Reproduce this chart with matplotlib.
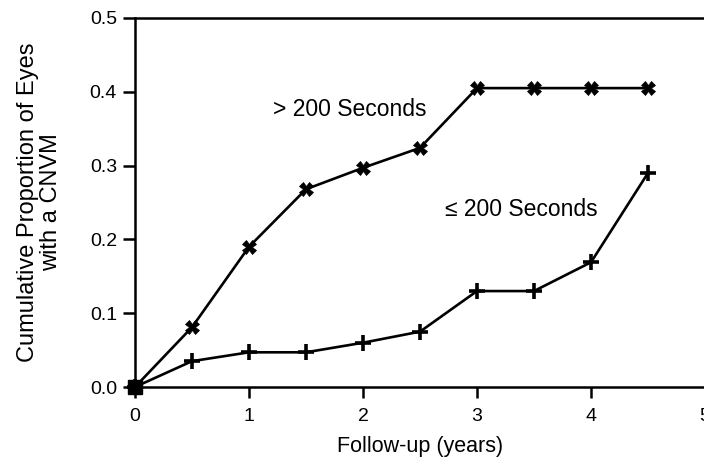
import matplotlib
matplotlib.use("Agg")
import matplotlib.pyplot as plt
from matplotlib.ticker import FormatStrFormatter

plt.rcParams['font.family'] = ['Liberation Sans', 'DejaVu Sans']

years = [0, 0.5, 1.0, 1.5, 2.0, 2.5, 3.0, 3.5, 4.0, 4.5]
gt200 = [0.0, 0.081, 0.190, 0.268, 0.297, 0.324, 0.405, 0.405, 0.405, 0.405]
le200 = [0.0, 0.035, 0.047, 0.047, 0.060, 0.075, 0.130, 0.130, 0.169, 0.290]
x_ticks = [0, 1, 2, 3, 4, 5]
y_ticks = [0.0, 0.1, 0.2, 0.3, 0.4, 0.5]

W, H = 704, 457
fig = plt.figure(figsize=(W / 100, H / 100), dpi=100)
left, right, bottom, top = 135, 705, 387, 18
ax = fig.add_axes([left / W, 1 - bottom / H, (right - left) / W, (bottom - top) / H])

ax.plot(years, gt200, color='black', lw=1.9, marker='X', markersize=10,
        markeredgewidth=0.5, clip_on=False, zorder=3)
ax.plot(years, le200, color='black', lw=1.9, marker='+', markersize=12,
        markeredgewidth=2.6, clip_on=False, zorder=3)
# shared starting point drawn as a filled square
ax.plot(years[:1], gt200[:1], color='black', marker='s', markersize=10,
        linestyle='none', clip_on=False, zorder=4)

ax.set_xlim(0, 5)
ax.set_ylim(0, 0.5)
ax.set_xticks(x_ticks)
ax.set_yticks(y_ticks)
ax.yaxis.set_major_formatter(FormatStrFormatter('%.1f'))
ax.spines['right'].set_visible(False)
for s in ['left', 'bottom', 'top']:
    ax.spines[s].set_linewidth(1.8)
ax.tick_params(axis='y', direction='out', length=9, width=1.8, pad=4, labelsize=14)
ax.tick_params(axis='x', direction='out', length=8, width=1.8, pad=7, labelsize=14)

ax.set_xlabel('Follow-up (years)', fontsize=15.5)
ax.xaxis.set_label_coords(0.5, (387 - 436) / (387 - 18))
ax.set_ylabel('Cumulative Proportion of Eyes\nwith a CNVM', fontsize=17,
              linespacing=1.05)
ax.yaxis.set_label_coords((62 - 135) / 570, 0.5)

ax.text(273 / W, 1 - 110 / H, '> 200 Seconds', transform=fig.transFigure,
        fontsize=16.5, va='center', ha='left')
ax.text(445 / W, 1 - 210 / H, '\u2264 200 Seconds', transform=fig.transFigure,
        fontsize=16.5, va='center', ha='left')

fig.savefig('out.png', dpi=100)
